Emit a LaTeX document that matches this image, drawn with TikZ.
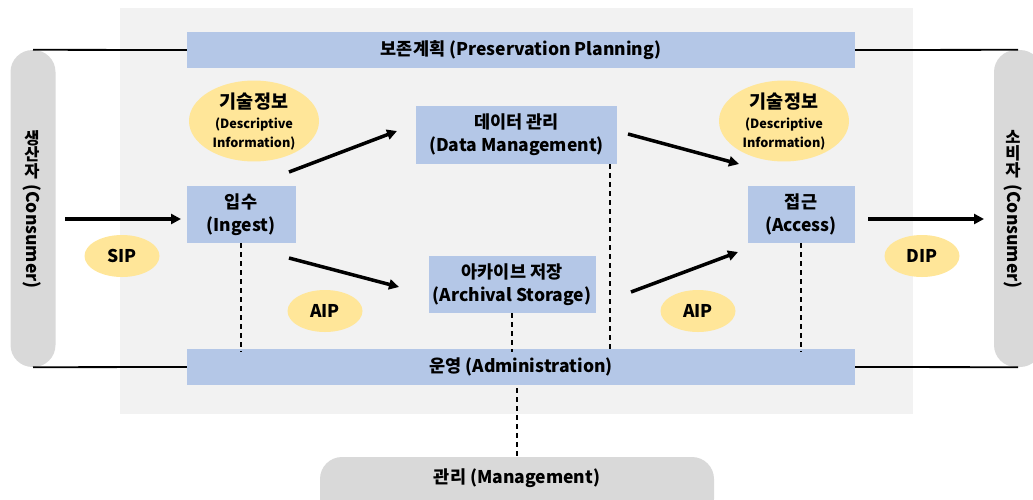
\documentclass[tikz,border=0pt]{standalone}
\usepackage{fontspec}
\setmainfont{Noto Sans CJK KR}
\usetikzlibrary{arrows.meta,shapes.geometric}
\definecolor{bgcol}{HTML}{F2F2F2}
\definecolor{boxblue}{HTML}{B4C7E7}
\definecolor{ellyellow}{HTML}{FFE699}
\definecolor{pillgray}{HTML}{D9D9D9}
\begin{document}
\begin{tikzpicture}[x=1pt,y=-1pt,
  font=\bfseries\fontsize{17.5}{23}\selectfont,
  bar/.style={fill=boxblue, inner sep=0pt, minimum width=668, minimum height=36},
  fbox/.style={fill=boxblue, inner sep=0pt, align=center},
  ell/.style={ellipse, fill=ellyellow, inner sep=0pt, align=center},
  pill/.style={fill=pillgray, rounded corners=22pt, inner sep=0pt},
  vchars/.style={inner sep=0pt, align=center, font=\bfseries\fontsize{16.5}{16.5}\selectfont},
  flow/.style={line width=3.5pt, -{Triangle[length=10pt,width=10pt]}},
  dashline/.style={line width=1.8pt, dash pattern=on 5pt off 4pt},
  link/.style={line width=1.8pt}]
\useasboundingbox (0,0) rectangle (1033,499);
\fill[bgcol] (120,8) rectangle (913,414);

% pills
\node[pill, minimum width=45, minimum height=317] (prod) at (33,208.5) {};
\node[vchars, anchor=north] (prodk) at (32,130) {생\\산\\자};
\node[rotate=-90, anchor=west, inner sep=0pt] (prodc) at (32,184) {(Consumer)};
\node[pill, minimum width=48, minimum height=317] (cons) at (1018,208.5) {};
\node[vchars, anchor=north] (consk) at (1013,130) {소\\비\\자};
\node[rotate=-90, anchor=west, inner sep=0pt] (consc) at (1013,184) {(Consumer)};
\node[pill, minimum width=394, minimum height=64] (mgmt) at (517,489) {};
\node (mgmtlabel) at (517,478) {관리 (Management)};

% bars
\node[bar] (plan) at (521,50) {보존계획 (Preservation Planning)};
\node[bar] (admin) at (521,367) {운영 (Administration)};

% function boxes
\node[fbox, minimum width=109, minimum height=57] (ing) at (241,214.5) {입수\\(Ingest)};
\node[fbox, minimum width=201, minimum height=58] (dm) at (516.5,135) {데이터 관리\\(Data Management)};
\node[fbox, minimum width=167, minimum height=57] (as) at (512,284.5) {아카이브 저장\\(Archival Storage)};
\node[fbox, minimum width=107, minimum height=57] (acc) at (801,214.5) {접근\\(Access)};

% ellipses
\node[ell, minimum width=130, minimum height=75] (di1) at (254,121)
  {{\fontsize{18.5}{20}\selectfont 기술정보}\\[-3pt]{\fontsize{12.7}{15}\selectfont (Descriptive}\\[-4pt]{\fontsize{12.7}{15}\selectfont Information)}};
\node[ell, minimum width=130, minimum height=75] (di2) at (784,121)
  {{\fontsize{18.5}{20}\selectfont 기술정보}\\[-3pt]{\fontsize{12.7}{15}\selectfont (Descriptive}\\[-4pt]{\fontsize{12.7}{15}\selectfont Information)}};
\node[ell, minimum width=75, minimum height=42] (sip) at (122,256) {SIP};
\node[ell, minimum width=75, minimum height=42] (aip1) at (325,311) {AIP};
\node[ell, minimum width=75, minimum height=42] (aip2) at (698,311) {AIP};
\node[ell, minimum width=75, minimum height=42] (dip) at (922,256) {DIP};

% links pills to bars
\draw[link] (prod.north) -- (plan.west);
\draw[link] (prod.south) -- (admin.west);
\draw[link] (plan.east) -- (cons.north);
\draw[link] (admin.east) -- (cons.south);

% flow arrows
\coordinate (a1s) at (65,219);   \coordinate (a1e) at (181,219);
\coordinate (a2s) at (289,172);  \coordinate (a2e) at (397,131);
\coordinate (a3s) at (289,258);  \coordinate (a3e) at (399,287);
\coordinate (a4s) at (628,134);  \coordinate (a4e) at (739,164);
\coordinate (a5s) at (631,292);  \coordinate (a5e) at (738,252);
\coordinate (a6s) at (868,219);  \coordinate (a6e) at (984,219);
\draw[flow] (a1s) -- (a1e);
\draw[flow] (a2s) -- (a2e);
\draw[flow] (a3s) -- (a3e);
\draw[flow] (a4s) -- (a4e);
\draw[flow] (a5s) -- (a5e);
\draw[flow] (a6s) -- (a6e);

% dashed links
\draw[dashline] (ing.south) -- ([yshift=-3]ing.south |- admin.north);
\draw[dashline] (as.south) -- ([yshift=-3]as.south |- admin.north);
\draw[dashline] ([xshift=93.5]dm.south) -- ([xshift=93.5,yshift=-3]dm.south |- admin.north);
\draw[dashline] (acc.south) -- ([yshift=-3]acc.south |- admin.north);
\draw[dashline] ([yshift=-3]mgmt.north |- admin.south) -- (mgmt.north);
\end{tikzpicture}
\end{document}
